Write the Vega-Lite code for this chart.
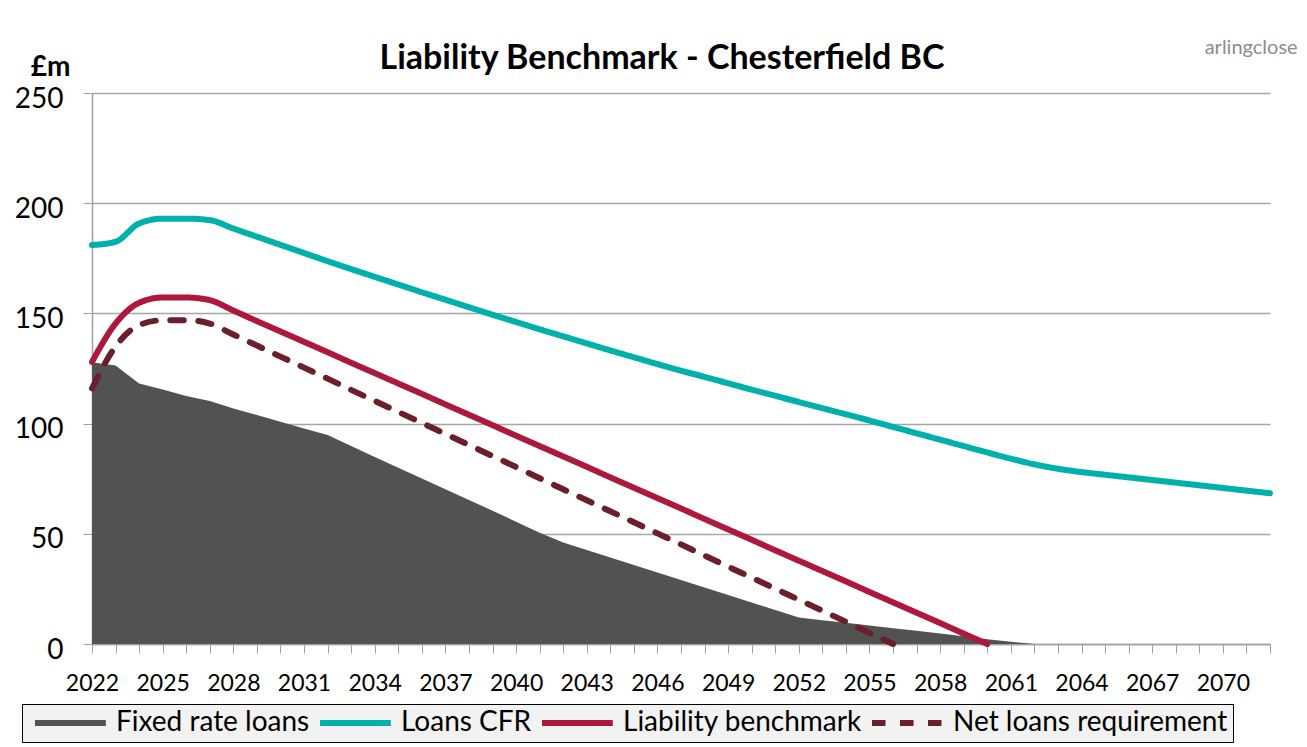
{
  "$schema": "https://vega.github.io/schema/vega-lite/v6.json",
  "width": 1178,
  "height": 551,
  "autosize": "none",
  "padding": {"left": 92, "top": 93, "right": 37, "bottom": 103},
  "background": "white",
  "config": {"view": {"stroke": null}, "axisX": {"labelOverlap": false}},
  "title": {"text": "Liability Benchmark - Chesterfield BC", "font": "Lato", "fontSize": 34, "fontWeight": "bold", "color": "black", "anchor": "middle", "dx": -19, "offset": 20, "dy": 58},
  "datasets": {
    "loans": [
      {"year": 2022, "Fixed rate loans": 127.8, "Loans CFR": 181.0, "Liability benchmark": 128.0, "Net loans requirement": 116.0},
      {"year": 2023, "Fixed rate loans": 126.4, "Loans CFR": 182.5, "Liability benchmark": 145.4, "Net loans requirement": 135.0},
      {"year": 2024, "Fixed rate loans": 118.2, "Loans CFR": 190.8, "Liability benchmark": 154.8, "Net loans requirement": 144.7},
      {"year": 2025, "Fixed rate loans": 115.5, "Loans CFR": 193.0, "Liability benchmark": 157.2, "Net loans requirement": 146.9},
      {"year": 2026, "Fixed rate loans": 112.5, "Loans CFR": 193.0, "Liability benchmark": 157.2, "Net loans requirement": 146.9},
      {"year": 2027, "Fixed rate loans": 110.2, "Loans CFR": 192.3, "Liability benchmark": 156.0, "Net loans requirement": 145.4},
      {"year": 2028, "Fixed rate loans": 106.9, "Loans CFR": 188.5, "Liability benchmark": 151.3, "Net loans requirement": 140.4},
      {"year": 2029, "Fixed rate loans": 103.9, "Loans CFR": 184.8, "Liability benchmark": 146.5, "Net loans requirement": 135.4},
      {"year": 2030, "Fixed rate loans": 100.8, "Loans CFR": 181.1, "Liability benchmark": 141.8, "Net loans requirement": 130.4},
      {"year": 2031, "Fixed rate loans": 97.8, "Loans CFR": 177.4, "Liability benchmark": 137.1, "Net loans requirement": 125.4},
      {"year": 2032, "Fixed rate loans": 94.8, "Loans CFR": 173.7, "Liability benchmark": 132.4, "Net loans requirement": 120.4},
      {"year": 2033, "Fixed rate loans": 89.8, "Loans CFR": 170.1, "Liability benchmark": 127.6, "Net loans requirement": 115.3},
      {"year": 2034, "Fixed rate loans": 84.9, "Loans CFR": 166.6, "Liability benchmark": 122.9, "Net loans requirement": 110.3},
      {"year": 2035, "Fixed rate loans": 80.0, "Loans CFR": 163.1, "Liability benchmark": 118.2, "Net loans requirement": 105.3},
      {"year": 2036, "Fixed rate loans": 75.1, "Loans CFR": 159.6, "Liability benchmark": 113.5, "Net loans requirement": 100.3},
      {"year": 2037, "Fixed rate loans": 70.2, "Loans CFR": 156.2, "Liability benchmark": 108.7, "Net loans requirement": 95.3},
      {"year": 2038, "Fixed rate loans": 65.3, "Loans CFR": 152.8, "Liability benchmark": 104.0, "Net loans requirement": 90.3},
      {"year": 2039, "Fixed rate loans": 60.5, "Loans CFR": 149.4, "Liability benchmark": 99.3, "Net loans requirement": 85.3},
      {"year": 2040, "Fixed rate loans": 55.5, "Loans CFR": 146.1, "Liability benchmark": 94.5, "Net loans requirement": 80.3},
      {"year": 2041, "Fixed rate loans": 50.5, "Loans CFR": 142.8, "Liability benchmark": 89.8, "Net loans requirement": 75.2},
      {"year": 2042, "Fixed rate loans": 46.0, "Loans CFR": 139.6, "Liability benchmark": 85.1, "Net loans requirement": 70.2},
      {"year": 2043, "Fixed rate loans": 42.6, "Loans CFR": 136.4, "Liability benchmark": 80.4, "Net loans requirement": 65.2},
      {"year": 2044, "Fixed rate loans": 39.2, "Loans CFR": 133.2, "Liability benchmark": 75.6, "Net loans requirement": 60.2},
      {"year": 2045, "Fixed rate loans": 35.8, "Loans CFR": 130.1, "Liability benchmark": 70.9, "Net loans requirement": 55.2},
      {"year": 2046, "Fixed rate loans": 32.4, "Loans CFR": 127.0, "Liability benchmark": 66.2, "Net loans requirement": 50.2},
      {"year": 2047, "Fixed rate loans": 29.0, "Loans CFR": 124.0, "Liability benchmark": 61.5, "Net loans requirement": 45.2},
      {"year": 2048, "Fixed rate loans": 25.6, "Loans CFR": 121.2, "Liability benchmark": 56.7, "Net loans requirement": 40.1},
      {"year": 2049, "Fixed rate loans": 22.2, "Loans CFR": 118.3, "Liability benchmark": 52.0, "Net loans requirement": 35.1},
      {"year": 2050, "Fixed rate loans": 18.8, "Loans CFR": 115.4, "Liability benchmark": 47.3, "Net loans requirement": 30.1},
      {"year": 2051, "Fixed rate loans": 15.4, "Loans CFR": 112.6, "Liability benchmark": 42.5, "Net loans requirement": 25.1},
      {"year": 2052, "Fixed rate loans": 12.0, "Loans CFR": 109.8, "Liability benchmark": 37.8, "Net loans requirement": 20.1},
      {"year": 2053, "Fixed rate loans": 10.8, "Loans CFR": 107.0, "Liability benchmark": 33.1, "Net loans requirement": 15.1},
      {"year": 2054, "Fixed rate loans": 9.6, "Loans CFR": 104.2, "Liability benchmark": 28.4, "Net loans requirement": 10.1},
      {"year": 2055, "Fixed rate loans": 8.4, "Loans CFR": 101.4, "Liability benchmark": 23.6, "Net loans requirement": 5.0},
      {"year": 2056, "Fixed rate loans": 7.2, "Loans CFR": 98.5, "Liability benchmark": 18.9, "Net loans requirement": 0.0},
      {"year": 2057, "Fixed rate loans": 6.0, "Loans CFR": 95.6, "Liability benchmark": 14.2, "Net loans requirement": null},
      {"year": 2058, "Fixed rate loans": 4.8, "Loans CFR": 92.7, "Liability benchmark": 9.5, "Net loans requirement": null},
      {"year": 2059, "Fixed rate loans": 3.5, "Loans CFR": 89.8, "Liability benchmark": 4.7, "Net loans requirement": null},
      {"year": 2060, "Fixed rate loans": 2.2, "Loans CFR": 86.9, "Liability benchmark": 0.0, "Net loans requirement": null},
      {"year": 2061, "Fixed rate loans": 1.0, "Loans CFR": 84.1, "Liability benchmark": null, "Net loans requirement": null},
      {"year": 2062, "Fixed rate loans": 0, "Loans CFR": 81.5, "Liability benchmark": null, "Net loans requirement": null},
      {"year": 2063, "Fixed rate loans": 0, "Loans CFR": 79.5, "Liability benchmark": null, "Net loans requirement": null},
      {"year": 2064, "Fixed rate loans": 0, "Loans CFR": 78.0, "Liability benchmark": null, "Net loans requirement": null},
      {"year": 2065, "Fixed rate loans": 0, "Loans CFR": 76.8, "Liability benchmark": null, "Net loans requirement": null},
      {"year": 2066, "Fixed rate loans": 0, "Loans CFR": 75.6, "Liability benchmark": null, "Net loans requirement": null},
      {"year": 2067, "Fixed rate loans": 0, "Loans CFR": 74.4, "Liability benchmark": null, "Net loans requirement": null},
      {"year": 2068, "Fixed rate loans": 0, "Loans CFR": 73.2, "Liability benchmark": null, "Net loans requirement": null},
      {"year": 2069, "Fixed rate loans": 0, "Loans CFR": 72.0, "Liability benchmark": null, "Net loans requirement": null},
      {"year": 2070, "Fixed rate loans": 0, "Loans CFR": 70.8, "Liability benchmark": null, "Net loans requirement": null},
      {"year": 2071, "Fixed rate loans": 0, "Loans CFR": 69.6, "Liability benchmark": null, "Net loans requirement": null},
      {"year": 2072, "Fixed rate loans": 0, "Loans CFR": 68.4, "Liability benchmark": null, "Net loans requirement": null}
    ],
    "logo": [{"name": "arlingclose"}]
  },
  "layer": [
    {
      "data": {"name": "loans"},
      "transform": [
        {"fold": ["Fixed rate loans", "Loans CFR", "Liability benchmark", "Net loans requirement"], "as": ["series", "value"]},
        {"filter": "datum.series === 'Fixed rate loans'"}
      ],
      "mark": {"type": "area", "opacity": 1, "color": "#525252"},
      "encoding": {
        "x": {"field": "year", "type": "quantitative", "scale": {"domain": [2022, 2072], "nice": false, "zero": false},
          "axis": {"title": null, "values": [2022,2023,2024,2025,2026,2027,2028,2029,2030,2031,2032,2033,2034,2035,2036,2037,2038,2039,2040,2041,2042,2043,2044,2045,2046,2047,2048,2049,2050,2051,2052,2053,2054,2055,2056,2057,2058,2059,2060,2061,2062,2063,2064,2065,2066,2067,2068,2069,2070,2071,2072],
            "format": "d", "labelExpr": "(datum.value - 2022) % 3 === 0 ? datum.label : ''",
            "labelFont": "Lato", "labelFontSize": 23, "labelColor": "black", "labelPadding": 19,
            "tickSize": 9, "tickColor": "#A0A0A0", "tickWidth": 1, "domainColor": "#A0A0A0", "domainWidth": 1.5,
            "grid": false, "labelOverlap": false, "labelFlush": false, "labelBound": false}},
        "y": {"field": "value", "type": "quantitative", "scale": {"domain": [0, 250], "nice": false},
          "axis": {"title": "£m", "titleAngle": 0, "titleX": -42, "titleY": -18, "titleAlign": "center", "titleBaseline": "alphabetic",
            "titleFont": "Lato", "titleFontSize": 28, "titleFontWeight": "bold", "titleColor": "black",
            "values": [0, 50, 100, 150, 200, 250], "labelFont": "Lato", "labelFontSize": 28, "labelColor": "black",
            "labelPadding": 20, "labelOffset": 6, "tickSize": 9, "tickColor": "#A0A0A0", "domainColor": "#A0A0A0", "domainWidth": 1.5,
            "grid": true, "gridColor": "#A6A6A6", "gridWidth": 1.5}}
      }
    },
    {
      "data": {"name": "loans"},
      "transform": [
        {"fold": ["Fixed rate loans", "Loans CFR", "Liability benchmark", "Net loans requirement"], "as": ["series", "value"]},
        {"filter": "datum.series !== 'Fixed rate loans'"}
      ],
      "mark": {"type": "line", "interpolate": "monotone", "strokeCap": "round", "strokeWidth": 6},
      "encoding": {
        "x": {"field": "year", "type": "quantitative", "scale": {"domain": [2022, 2072], "nice": false, "zero": false},
          "axis": {"title": null, "values": [2022,2023,2024,2025,2026,2027,2028,2029,2030,2031,2032,2033,2034,2035,2036,2037,2038,2039,2040,2041,2042,2043,2044,2045,2046,2047,2048,2049,2050,2051,2052,2053,2054,2055,2056,2057,2058,2059,2060,2061,2062,2063,2064,2065,2066,2067,2068,2069,2070,2071,2072],
            "format": "d", "labelExpr": "(datum.value - 2022) % 3 === 0 ? datum.label : ''",
            "labelFont": "Lato", "labelFontSize": 23, "labelColor": "black", "labelPadding": 19,
            "tickSize": 9, "tickColor": "#A0A0A0", "tickWidth": 1, "domainColor": "#A0A0A0", "domainWidth": 1.5,
            "grid": false, "labelOverlap": false, "labelFlush": false, "labelBound": false}},
        "y": {"field": "value", "type": "quantitative", "scale": {"domain": [0, 250], "nice": false},
          "axis": {"title": "£m", "titleAngle": 0, "titleX": -42, "titleY": -18, "titleAlign": "center", "titleBaseline": "alphabetic",
            "titleFont": "Lato", "titleFontSize": 28, "titleFontWeight": "bold", "titleColor": "black",
            "values": [0, 50, 100, 150, 200, 250], "labelFont": "Lato", "labelFontSize": 28, "labelColor": "black",
            "labelPadding": 20, "labelOffset": 6, "tickSize": 9, "tickColor": "#A0A0A0", "domainColor": "#A0A0A0", "domainWidth": 1.5,
            "grid": true, "gridColor": "#A6A6A6", "gridWidth": 1.5}},
        "color": {"field": "series", "type": "nominal",
          "scale": {"domain": ["Fixed rate loans", "Loans CFR", "Liability benchmark", "Net loans requirement"], "range": ["#525252", "#00B0AA", "#AE183C", "#6B1F2A"]},
          "legend": {"title": null, "orient": "none", "legendX": -70, "legendY": 611, "direction": "horizontal",
            "fillColor": "#F2F2F2", "strokeColor": "black", "padding": 5,
            "labelFont": "Lato", "labelFontSize": 28, "labelColor": "black", "labelOffset": 61, "labelLimit": 0,
            "columnPadding": -2, "symbolSize": 144, "symbolType": "M-1,0H10.8", "symbolStrokeWidth": 6, "symbolOpacity": 1}},
        "strokeDash": {"field": "series", "type": "nominal",
          "scale": {"domain": ["Fixed rate loans", "Loans CFR", "Liability benchmark", "Net loans requirement"], "range": [[1, 0], [1, 0], [1, 0], [13.5, 14.5]]},
          "legend": {"title": null, "orient": "none", "legendX": -70, "legendY": 611, "direction": "horizontal",
            "fillColor": "#F2F2F2", "strokeColor": "black", "padding": 5,
            "labelFont": "Lato", "labelFontSize": 28, "labelColor": "black", "labelOffset": 61, "labelLimit": 0,
            "columnPadding": -2, "symbolSize": 144, "symbolType": "M-1,0H10.8", "symbolStrokeWidth": 6, "symbolOpacity": 1}}
      }
    },
    {
      "data": {"name": "logo"},
      "mark": {"type": "text", "font": "Lato", "fontSize": 20, "color": "#8C8C8C", "align": "center", "baseline": "middle"},
      "encoding": {
        "x": {"datum": 2071.2, "type": "quantitative",
          "axis": {"title": null, "values": [2022,2023,2024,2025,2026,2027,2028,2029,2030,2031,2032,2033,2034,2035,2036,2037,2038,2039,2040,2041,2042,2043,2044,2045,2046,2047,2048,2049,2050,2051,2052,2053,2054,2055,2056,2057,2058,2059,2060,2061,2062,2063,2064,2065,2066,2067,2068,2069,2070,2071,2072],
            "format": "d", "labelExpr": "(datum.value - 2022) % 3 === 0 ? datum.label : ''",
            "labelFont": "Lato", "labelFontSize": 23, "labelColor": "black", "labelPadding": 19,
            "tickSize": 9, "tickColor": "#A0A0A0", "tickWidth": 1, "domainColor": "#A0A0A0", "domainWidth": 1.5,
            "grid": false, "labelOverlap": false, "labelFlush": false, "labelBound": false}},
        "y": {"datum": 270.5, "type": "quantitative",
          "axis": {"title": "£m", "titleAngle": 0, "titleX": -42, "titleY": -18, "titleAlign": "center", "titleBaseline": "alphabetic",
            "titleFont": "Lato", "titleFontSize": 28, "titleFontWeight": "bold", "titleColor": "black",
            "values": [0, 50, 100, 150, 200, 250], "labelFont": "Lato", "labelFontSize": 28, "labelColor": "black",
            "labelPadding": 20, "labelOffset": 6, "tickSize": 9, "tickColor": "#A0A0A0", "domainColor": "#A0A0A0", "domainWidth": 1.5,
            "grid": true, "gridColor": "#A6A6A6", "gridWidth": 1.5}},
        "text": {"field": "name"}
      }
    }
  ]
}
